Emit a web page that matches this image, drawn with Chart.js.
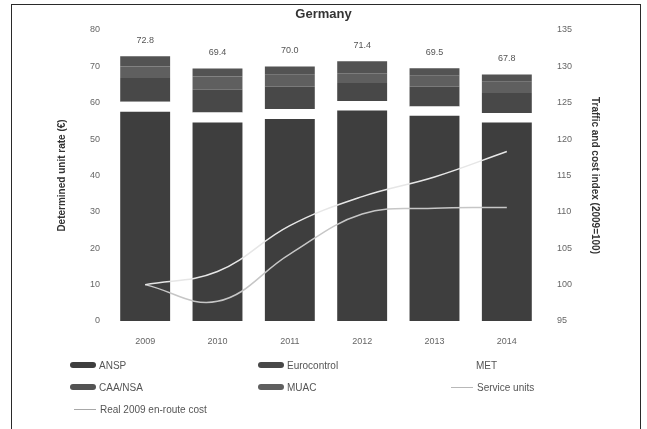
<!DOCTYPE html>
<html>
<head>
<meta charset="utf-8">
<title>Germany</title>
<script src="https://cdn.jsdelivr.net/npm/chart.js@4"></script>
<style>
    body { margin: 0; background: #fff; font-family: "Liberation Sans", Arial, sans-serif; }
    #wrap { position: relative; width: 647px; height: 429px; overflow: hidden; }
    #frame { position: absolute; left: 11px; top: 4px; width: 628px; height: 460px; border: 1.5px solid #2a2a2a; }
    #chartCanvas { position: absolute; left: 0; top: 0; }
    #legend { position: absolute; left: 70px; top: 354px; display: grid;
              grid-template-columns: 188px 189px 160px; grid-auto-rows: 22px; }
    .lg-item { display: flex; align-items: center; font-size: 10px; color: #555; }
    .lg-box { width: 26px; height: 6px; border-radius: 3px; margin-right: 3px; }
    .lg-line { width: 22px; height: 0; border-top: 1.5px solid #bbb; margin-right: 4px; margin-left: 4px; }
</style>
</head>
<body>
<div id="wrap">
    <div id="frame"></div>
    <canvas id="chartCanvas" width="647" height="429"></canvas>
    <div id="legend"></div>
</div>
<script>
    const years = ['2009', '2010', '2011', '2012', '2013', '2014'];

    // unit rate components (EUR)
    const ansp = [57.5, 54.6, 55.5, 57.9, 56.4, 54.6];
    const met = [2.8, 2.7, 2.8, 2.6, 2.6, 2.6];
    const eurocontrol = [6.5, 6.3, 6.2, 4.9, 5.5, 5.5];
    const muac = [3.2, 3.6, 3.2, 2.7, 2.9, 3.1];
    const caaNsa = [2.8, 2.2, 2.3, 3.3, 2.1, 2.0];

    // indices, 2009 = 100
    const serviceUnits = [100, 101.8, 108.1, 112.1, 114.8, 118.3];
    const realCost = [100, 97.7, 104.2, 109.7, 110.5, 110.6];

    const leftTicks = [0, 10, 20, 30, 40, 50, 60, 70, 80];
    const rightTicks = [95, 100, 105, 110, 115, 120, 125, 130, 135];

    const legendOrder = ['ANSP', 'Eurocontrol', 'MET', 'CAA/NSA', 'MUAC', 'Service units', 'Real 2009 en-route cost'];

    const tickFont = { family: 'Liberation Sans', size: 9 };
    const axisTitleFont = { family: 'Liberation Sans', size: 10, weight: 'bold' };

    // totals printed above each bar
    const totalLabels = {
        id: 'totalLabels',
        afterDatasetsDraw(chart) {
            const ctx = chart.ctx;
            const x = chart.scales.x;
            const y = chart.scales.y;
            ctx.save();
            ctx.font = '9px "Liberation Sans"';
            ctx.fillStyle = '#555';
            ctx.textAlign = 'center';
            ctx.textBaseline = 'middle';
            years.forEach((yr, i) => {
                const total = ansp[i] + met[i] + eurocontrol[i] + muac[i] + caaNsa[i];
                ctx.fillText(total.toFixed(1), x.getPixelForValue(i), y.getPixelForValue(total) - 16);
            });
            ctx.restore();
        }
    };

    function barSet(label, data, color) {
        return {
            type: 'bar',
            label: label,
            data: data,
            backgroundColor: color,
            borderWidth: 0,
            yAxisID: 'y',
            barPercentage: 0.69,
            categoryPercentage: 1
        };
    }

    function lineSet(label, data, color) {
        return {
            type: 'line',
            label: label,
            data: data,
            borderColor: color,
            backgroundColor: color,
            borderWidth: 1.5,
            pointRadius: 0,
            tension: 0.4,
            yAxisID: 'y1'
        };
    }

    const chart = new Chart(document.getElementById('chartCanvas'), {
        data: {
            labels: years,
            datasets: [
                lineSet('Service units', serviceUnits, '#e6e6e6'),
                lineSet('Real 2009 en-route cost', realCost, '#c6c6c6'),
                barSet('ANSP', ansp, '#3e3e3e'),
                barSet('MET', met, '#ffffff'),
                barSet('Eurocontrol', eurocontrol, '#484848'),
                barSet('MUAC', muac, '#5f5f5f'),
                barSet('CAA/NSA', caaNsa, '#535353')
            ]
        },
        options: {
            responsive: false,
            animation: false,
            layout: { padding: 0 },
            plugins: {
                legend: { display: false },
                tooltip: { enabled: false },
                title: {
                    display: true,
                    text: 'Germany',
                    color: '#333',
                    font: { family: 'Liberation Sans', size: 13, weight: 'bold', lineHeight: 1.2 },
                    padding: { top: 7, bottom: 7.4 }
                }
            },
            scales: {
                x: {
                    stacked: true,
                    grid: { display: false, drawTicks: false },
                    border: { display: false },
                    ticks: { color: '#666', font: tickFont, padding: 15 },
                    afterFit: s => { s.height = 108; }
                },
                y: {
                    stacked: true,
                    position: 'left',
                    min: 0,
                    max: 80,
                    afterBuildTicks: s => { s.ticks = leftTicks.map(v => ({ value: v })); },
                    grid: { display: false, drawTicks: false },
                    border: { display: false },
                    ticks: { color: '#666', font: tickFont, padding: 9 },
                    title: {
                        display: true,
                        text: 'Determined unit rate (€)',
                        color: '#333',
                        font: axisTitleFont,
                        padding: { top: 56, bottom: 0 }
                    },
                    afterFit: s => { s.width = 109; }
                },
                y1: {
                    position: 'right',
                    min: 95,
                    max: 135,
                    afterBuildTicks: s => { s.ticks = rightTicks.map(v => ({ value: v })); },
                    grid: { display: false, drawTicks: false },
                    border: { display: false },
                    ticks: { color: '#666', font: tickFont, padding: 14 },
                    title: {
                        display: true,
                        text: 'Traffic and cost index (2009=100)',
                        color: '#333',
                        font: axisTitleFont,
                        padding: { top: 46, bottom: 0 }
                    },
                    afterFit: s => { s.width = 104; }
                }
            }
        },
        plugins: [totalLabels]
    });

    // legend in three columns, built from the chart's datasets
    function buildLegend() {
        const box = document.getElementById('legend');
        legendOrder.forEach(name => {
            const ds = chart.data.datasets.find(d => d.label === name);
            const item = document.createElement('div');
            item.className = 'lg-item';
            const mark = document.createElement('span');
            if (ds.type === 'line') {
                mark.className = 'lg-line';
                mark.style.borderTopColor = name === 'Service units' ? '#b8b8b8' : '#a8a8a8';
            } else {
                mark.className = 'lg-box';
                mark.style.background = ds.backgroundColor;
            }
            const text = document.createElement('span');
            text.textContent = ds.label;
            item.appendChild(mark);
            item.appendChild(text);
            box.appendChild(item);
        });
    }

    buildLegend();
</script>
</body>
</html>
